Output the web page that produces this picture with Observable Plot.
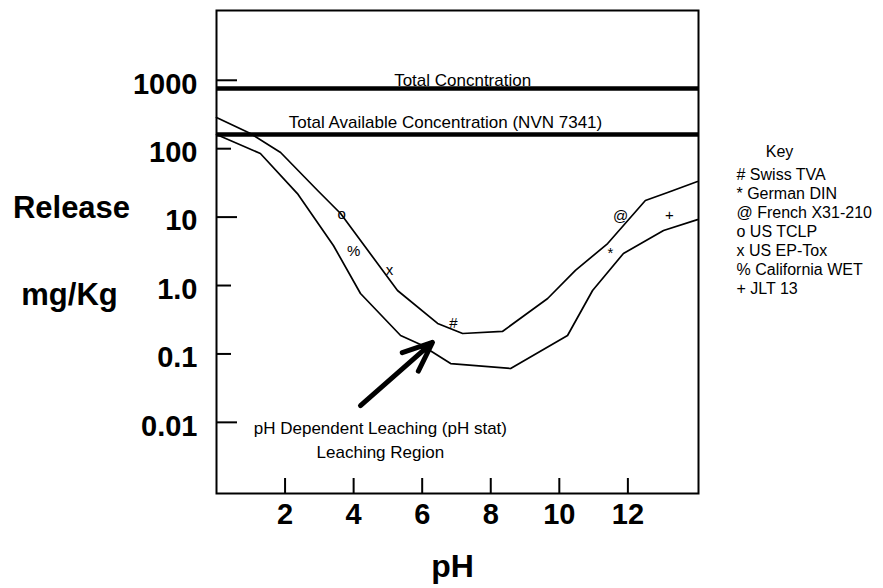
<!DOCTYPE html>
<html><head><meta charset="utf-8">
<script src="https://cdn.jsdelivr.net/npm/d3@7"></script>
<script src="https://cdn.jsdelivr.net/npm/@observablehq/plot@0.6"></script>
<style>html,body{margin:0;padding:0;background:#fff;} #chart{width:883px;height:588px;}</style>
</head><body><div id="chart"></div>
<script>
// Upper boundary of leaching region
const upperPH      = [0, 0.99, 1.87, 2.95, 3.62, 5.28, 6.45, 7.18, 8.34, 9.66, 10.47, 11.41, 12.51, 13.16, 14.03];
const upperRelease = [286, 167, 88, 24.5, 11.3, 0.845, 0.279, 0.199, 0.213, 0.646, 1.66, 4.11, 17.5, 22.9, 33.1];
// Lower boundary of leaching region
const lowerPH      = [0, 1.28, 2.36, 3.41, 4.2, 5.37, 5.95, 6.83, 8.58, 10.24, 10.97, 11.87, 13.04, 14.03];
const lowerRelease = [161, 85, 22.1, 3.85, 0.764, 0.186, 0.137, 0.0724, 0.0612, 0.186, 0.845, 2.94, 6.37, 9.2];
// Test method markers
const markerSymbols = ["o", "%", "x", "#", "@", "*", "+"];
const markerPH      = [3.65, 4.0, 5.05, 6.91, 11.79, 11.49, 13.21];
const markerRelease = [10.9, 3.14, 1.66, 0.279, 10.2, 3.0, 10.5];
// Concentration limits
const limitNames   = ["Total Concntration", "Total Available Concentration (NVN 7341)"];
const limitValues  = [759, 161];
const limitLabelPH = [7.18, 6.68];
// Axes
const xTicks = [2, 4, 6, 8, 10, 12];
const yTicks = [0.01, 0.1, 1, 10, 100, 1000];
const yTickLabels = ["0.01", "0.1", "1.0", "10", "100", "1000"];
const yLongTicks = [0.01, 10, 1000];
const yShortTicks = [0.1, 1, 100];
// Key
const keyTitle = "Key";
const keySymbols = ["#", "*", "@", "o", "x", "%", "+"];
const keyNames = ["Swiss TVA", "German DIN", "French X31-210", "US TCLP", "US EP-Tox", "California WET", "JLT 13"];
// Annotation
const annotationLines = ["pH Dependent Leaching (pH stat)", "Leaching Region"];
const annotationPH = 4.78, annotationRelease = 0.0058;
const arrowFrom = {pH: 4.2, release: 0.0176};
const arrowTo = {pH: 6.3, release: 0.147};

const upper = upperPH.map((p, i) => ({pH: p, release: upperRelease[i]}));
const lower = lowerPH.map((p, i) => ({pH: p, release: lowerRelease[i]}));
const markers = markerSymbols.map((s, i) => ({symbol: s, pH: markerPH[i], release: markerRelease[i]}));
const limits = limitNames.map((n, i) => ({name: n, value: limitValues[i], labelPH: limitLabelPH[i]}));
const keyText = keySymbols.map((s, i) => s + " " + keyNames[i]).join("\n");

const chart = Plot.plot({
  width: 883, height: 588,
  marginLeft: 216, marginRight: 185, marginTop: 10, marginBottom: 95,
  style: {fontFamily: "'Liberation Sans', Arial, Helvetica, sans-serif", background: "#fff", color: "#000"},
  x: {domain: [0, 14.06], label: null},
  y: {type: "log", domain: [Math.pow(10, -3.04), Math.pow(10, 4.02)], label: null},
  marks: [
    Plot.frame({stroke: "#000", strokeWidth: 2}),
    Plot.tickX(xTicks, {x: d => d, insetTop: 468, stroke: "#000", strokeWidth: 2}),
    Plot.axisX({ticks: xTicks, tickSize: 0, tickPadding: 10, fontSize: 29, fontWeight: "bold", label: null}),
    Plot.axisY({ticks: yLongTicks, tickSize: -21, stroke: "#000", strokeWidth: 2, fill: "none", label: null}),
    Plot.axisY({ticks: yShortTicks, tickSize: -15, stroke: "#000", strokeWidth: 2, fill: "none", label: null}),
    Plot.axisY({ticks: yTicks, tickSize: 0, tickPadding: 19, dy: 4, fontSize: 29, fontWeight: "bold",
      tickFormat: d => yTickLabels[yTicks.indexOf(d)], label: null}),
    Plot.ruleY(limits, {y: "value", stroke: "#000", strokeWidth: 4.5}),
    Plot.text([limits[0]], {x: "labelPH", y: "value", text: "name", fontSize: 17, dy: -7.5}),
    Plot.text([limits[1]], {x: "labelPH", y: "value", text: "name", fontSize: 17, dy: -11.5}),
    Plot.line(upper, {x: "pH", y: "release", stroke: "#000", strokeWidth: 1.7}),
    Plot.line(lower, {x: "pH", y: "release", stroke: "#000", strokeWidth: 1.7}),
    Plot.text(markers, {x: "pH", y: "release", text: "symbol", fontSize: 15}),
    Plot.arrow([{}], {x1: () => arrowFrom.pH, y1: () => arrowFrom.release, x2: () => arrowTo.pH, y2: () => arrowTo.release,
      stroke: "#000", strokeWidth: 5, headLength: 10, headAngle: 45}),
    Plot.text([annotationLines.join("\n")], {x: () => annotationPH, y: () => annotationRelease, fontSize: 17, lineHeight: 24 / 17}),
    Plot.text(["Release"], {frameAnchor: "left", textAnchor: "middle", lineAnchor: "middle", dx: -145, dy: -44, fontSize: 31, fontWeight: "bold"}),
    Plot.text(["mg/Kg"], {frameAnchor: "left", textAnchor: "middle", lineAnchor: "middle", dx: -147, dy: 43, fontSize: 31, fontWeight: "bold"}),
    Plot.text(["pH"], {frameAnchor: "bottom", textAnchor: "middle", lineAnchor: "middle", dx: -5, dy: 73, fontSize: 32, fontWeight: "bold"}),
    Plot.text([keyTitle], {frameAnchor: "top-right", textAnchor: "middle", lineAnchor: "middle", dx: 81, dy: 141, fontSize: 16}),
    Plot.text([keyText], {frameAnchor: "top-right", textAnchor: "start", lineAnchor: "middle", dx: 38, dy: 220, fontSize: 16, lineHeight: 19 / 16})
  ]
});
document.getElementById("chart").appendChild(chart);
</script>
</body></html>
